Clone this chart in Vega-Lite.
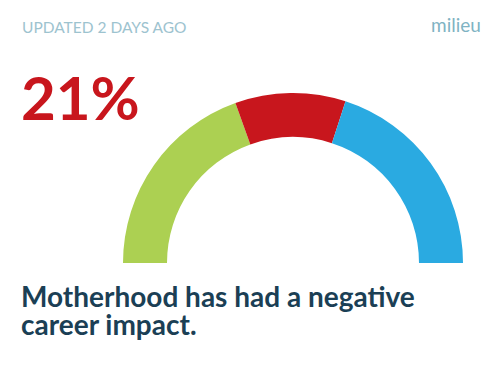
{
  "$schema": "https://vega.github.io/schema/vega-lite/v6.json",
  "width": 500,
  "height": 383,
  "padding": 0,
  "autosize": {"type": "none"},
  "background": "white",
  "config": {"view": {"stroke": null}},
  "layer": [
    {
      "data": {"values": [
        {"group": "Positive", "share": 39, "rank": 1},
        {"group": "Negative", "share": 21, "rank": 2},
        {"group": "Neutral", "share": 40, "rank": 3}
      ]},
      "mark": {"type": "arc", "innerRadius": 126, "outerRadius": 170},
      "encoding": {
        "x": {"datum": 293, "type": "quantitative", "scale": {"domain": [0, 500], "nice": false, "zero": false}, "axis": null},
        "y": {"datum": 263, "type": "quantitative", "scale": {"domain": [383, 0], "nice": false, "zero": false}, "axis": null},
        "theta": {"field": "share", "type": "quantitative", "stack": true, "scale": {"domain": [0, 100], "range": [-1.5708, 1.5708]}},
        "order": {"field": "rank", "type": "quantitative"},
        "color": {"field": "group", "type": "nominal", "scale": {"domain": ["Positive", "Negative", "Neutral"], "range": ["#acd052", "#c8161d", "#2aaae1"]}, "legend": null}
      }
    },
    {
      "data": {"values": [{"label": "UPDATED 2 DAYS AGO"}]},
      "mark": {"type": "text", "align": "left", "baseline": "alphabetic", "font": "Lato", "fontSize": 15.5, "fontWeight": "normal", "color": "#9dc3cf"},
      "encoding": {
        "x": {"datum": 22, "type": "quantitative"},
        "y": {"datum": 32.5, "type": "quantitative"},
        "text": {"field": "label"}
      }
    },
    {
      "data": {"values": [{"label": "milieu"}]},
      "mark": {"type": "text", "align": "left", "baseline": "alphabetic", "font": "Lato", "fontSize": 19, "fontWeight": "normal", "color": "#7fb3c3"},
      "encoding": {
        "x": {"datum": 431, "type": "quantitative"},
        "y": {"datum": 32, "type": "quantitative"},
        "text": {"field": "label"}
      }
    },
    {
      "data": {"values": [{"label": "21%"}]},
      "mark": {"type": "text", "align": "left", "baseline": "alphabetic", "font": "Lato", "fontSize": 60, "fontWeight": "bold", "color": "#c8161d"},
      "encoding": {
        "x": {"datum": 21, "type": "quantitative"},
        "y": {"datum": 120, "type": "quantitative"},
        "text": {"field": "label"}
      }
    },
    {
      "data": {"values": [{"label": "Motherhood has had a negative\ncareer impact."}]},
      "mark": {"type": "text", "align": "left", "baseline": "alphabetic", "font": "Lato", "fontSize": 28, "fontWeight": "bold", "color": "#1b3f55", "lineBreak": "\n", "lineHeight": 28},
      "encoding": {
        "x": {"datum": 21, "type": "quantitative"},
        "y": {"datum": 307, "type": "quantitative"},
        "text": {"field": "label"}
      }
    }
  ]
}
